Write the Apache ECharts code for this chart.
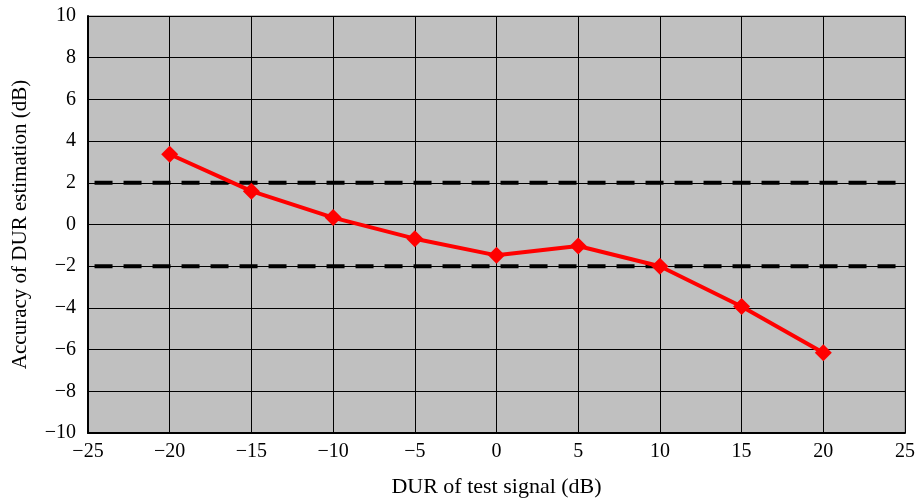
<!DOCTYPE html>
<html><head><meta charset="utf-8">
<script src="https://cdn.jsdelivr.net/npm/echarts@6/dist/echarts.min.js"></script>
<style>html,body{margin:0;padding:0;background:#fff}#c{width:916px;height:500px}</style>
</head><body><div id="c"></div>
<script>
const xValues = [-20, -15, -10, -5, 0, 5, 10, 15, 20];
const accuracy = [3.37, 1.6, 0.33, -0.68, -1.48, -1.03, -2.0, -3.93, -6.15];
const boundX = [-24.6, 25];
const upperBound = [2, 2];
const lowerBound = [-2, -2];
const xTitle = 'DUR of test signal (dB)';
const yTitle = 'Accuracy of DUR estimation (dB)';

const font = 'Liberation Serif';
const fmt = v => String(v).replace('-', '\u2212');
const chart = echarts.init(document.getElementById('c'));
chart.setOption({
  animation: false,
  backgroundColor: '#fff',
  grid: { left: 88, right: 11, top: 16, bottom: 67, containLabel: false, outerBoundsMode: 'none',
    show: true, backgroundColor: '#c0c0c0', borderColor: '#808080', borderWidth: 1 },
  xAxis: {
    type: 'value', min: -25, max: 25, interval: 5,
    name: xTitle, nameLocation: 'middle', nameGap: 43,
    nameTextStyle: { fontFamily: font, fontSize: 22, color: '#000' },
    axisLine: { show: true, onZero: false, lineStyle: { color: '#000', width: 2 } },
    axisTick: { show: false },
    axisLabel: { fontFamily: font, fontSize: 20, color: '#000', formatter: fmt, margin: 9 },
    splitLine: { show: true, lineStyle: { color: '#000', width: 1 } }
  },
  yAxis: {
    type: 'value', min: -10, max: 10, interval: 2,
    name: yTitle, nameLocation: 'middle', nameGap: 57,
    nameTextStyle: { fontFamily: font, fontSize: 21, color: '#000' },
    axisLine: { show: true, onZero: false, lineStyle: { color: '#000', width: 2 } },
    axisTick: { show: false },
    axisLabel: { fontFamily: font, fontSize: 20, color: '#000', formatter: fmt, margin: 12 },
    splitLine: { show: true, lineStyle: { color: '#000', width: 1 } }
  },
  series: [
    { type: 'line', data: boundX.map((x, i) => [x, upperBound[i]]), symbol: 'none',
      lineStyle: { color: '#000', width: 4, type: [18, 11] }, z: 3 },
    { type: 'line', data: boundX.map((x, i) => [x, lowerBound[i]]), symbol: 'none',
      lineStyle: { color: '#000', width: 4, type: [18, 11] }, z: 3 },
    { type: 'line', data: xValues.map((x, i) => [x, accuracy[i]]),
      symbol: 'diamond', symbolSize: 17,
      itemStyle: { color: '#ff0000' },
      lineStyle: { color: '#ff0000', width: 4 }, z: 5 }
  ]
});
</script></body></html>
